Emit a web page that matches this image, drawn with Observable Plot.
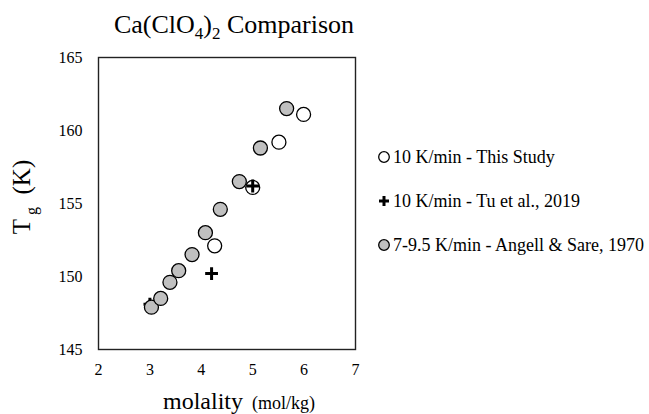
<!DOCTYPE html>
<html>
<head>
<meta charset="utf-8">
<script src="https://cdn.jsdelivr.net/npm/d3@7"></script>
<script src="https://cdn.jsdelivr.net/npm/@observablehq/plot@0.6"></script>
<style>
  body { margin: 0; background: #fff; }
  #chart { position: relative; width: 649px; height: 414px; font-family: "Liberation Serif", "Times New Roman", serif; color: #000; }
  #legend { position: absolute; left: 377px; top: 0; }
  .row { position: absolute; left: 0; white-space: nowrap; font-size: 18px; line-height: 20px; display: flex; align-items: center; }
  .row svg { margin-right: 2px; }
</style>
</head>
<body>
<div id="chart"></div>
<script>
// Ca(ClO4)2 glass transition temperature vs. molality
const studyMolality = [4.26, 5.0, 5.51, 5.99];
const studyTg = [152.1, 156.1, 159.2, 161.1];
const tuMolality = [3.0, 4.2, 5.0];
const tuTg = [148.1, 150.2, 156.2];
const angellMolality = [3.03, 3.21, 3.39, 3.56, 3.82, 4.08, 4.37, 4.74, 5.15, 5.66];
const angellTg = [147.9, 148.5, 149.6, 150.4, 151.5, 153.0, 154.6, 156.5, 158.8, 161.5];
const xTicks = [2, 3, 4, 5, 6, 7];
const yTicks = [145, 150, 155, 160, 165];
const seriesNames = ["10 K/min - This Study", "10 K/min - Tu et al., 2019", "7-9.5 K/min - Angell & Sare, 1970"];

const rows = (xs, ys) => xs.map((m, i) => ({molality: m, tg: ys[i]}));
const study = rows(studyMolality, studyTg);
const tu = rows(tuMolality, tuTg);
const angell = rows(angellMolality, angellTg);

const svg = Plot.plot({
  width: 649,
  height: 414,
  marginLeft: 98,
  marginRight: 294,
  marginTop: 57,
  marginBottom: 65,
  style: { fontFamily: "'Liberation Serif', 'Times New Roman', serif", fontSize: "16px", color: "#000", background: "#fff" },
  x: { domain: [2, 7], ticks: xTicks, tickFormat: d => String(d), tickSize: 0, tickPadding: 14, label: null },
  y: { domain: [145, 165], ticks: yTicks, tickFormat: d => String(d), tickSize: 0, tickPadding: 16, label: null },
  marks: [
    Plot.frame({ stroke: "#222", strokeWidth: 1.4 }),
    Plot.dot(study, { x: "molality", y: "tg", r: 7, fill: "#fff", stroke: "#000", strokeWidth: 1.3 }),
    Plot.dot(tu, { x: "molality", y: "tg", symbol: "plus", r: 4.2, stroke: "#000", strokeWidth: 3 }),
    Plot.dot(angell, { x: "molality", y: "tg", r: 7, fill: "#c0c0c0", stroke: "#000", strokeWidth: 1.3 })
  ]
});

const s = d3.select(svg).style("overflow", "visible");
const serif = "'Liberation Serif', 'Times New Roman', serif";

// title with subscripts
const title = s.append("text")
  .attr("x", 234).attr("y", 33)
  .attr("text-anchor", "middle")
  .attr("font-family", serif).attr("font-size", 26).attr("fill", "#000");
title.append("tspan").text("Ca(ClO");
title.append("tspan").attr("font-size", 17).attr("dy", 6).text("4");
title.append("tspan").attr("dy", -6).text(")");
title.append("tspan").attr("font-size", 17).attr("dy", 6).text("2");
title.append("tspan").attr("dy", -6).text(" Comparison");

// y-axis label: T_g (K)
const yl = s.append("text")
  .attr("transform", "translate(30,197) rotate(-90)")
  .attr("text-anchor", "middle")
  .attr("font-family", serif).attr("font-size", 25).attr("fill", "#000");
yl.append("tspan").text("T");
yl.append("tspan").attr("font-size", 16).attr("dy", 7).text(" g");
yl.append("tspan").attr("dy", -7).text("  (K)");

// x-axis label
const xl = s.append("text")
  .attr("x", 239).attr("y", 409)
  .attr("text-anchor", "middle")
  .attr("font-family", serif).attr("fill", "#000");
xl.append("tspan").attr("font-size", 24).text("molality");
xl.append("tspan").attr("font-size", 18).text("  (mol/kg)");

const chart = document.getElementById("chart");
chart.appendChild(svg);

// legend
const legend = document.createElement("div");
legend.id = "legend";
const centers = [157, 201, 245];
const swatch = [
  '<svg width="14" height="14"><circle cx="7" cy="7" r="5.3" fill="#fff" stroke="#000" stroke-width="1.3"/></svg>',
  '<svg width="14" height="14"><path d="M2,7H12M7,2V12" stroke="#000" stroke-width="3"/></svg>',
  '<svg width="14" height="14"><circle cx="7" cy="7" r="5.3" fill="#c0c0c0" stroke="#000" stroke-width="1.3"/></svg>'
];
seriesNames.forEach((name, i) => {
  const row = document.createElement("div");
  row.className = "row";
  row.style.top = (centers[i] - 10) + "px";
  row.innerHTML = swatch[i] + "<span></span>";
  row.querySelector("span").textContent = name;
  legend.appendChild(row);
});
chart.appendChild(legend);
</script>
</body>
</html>
